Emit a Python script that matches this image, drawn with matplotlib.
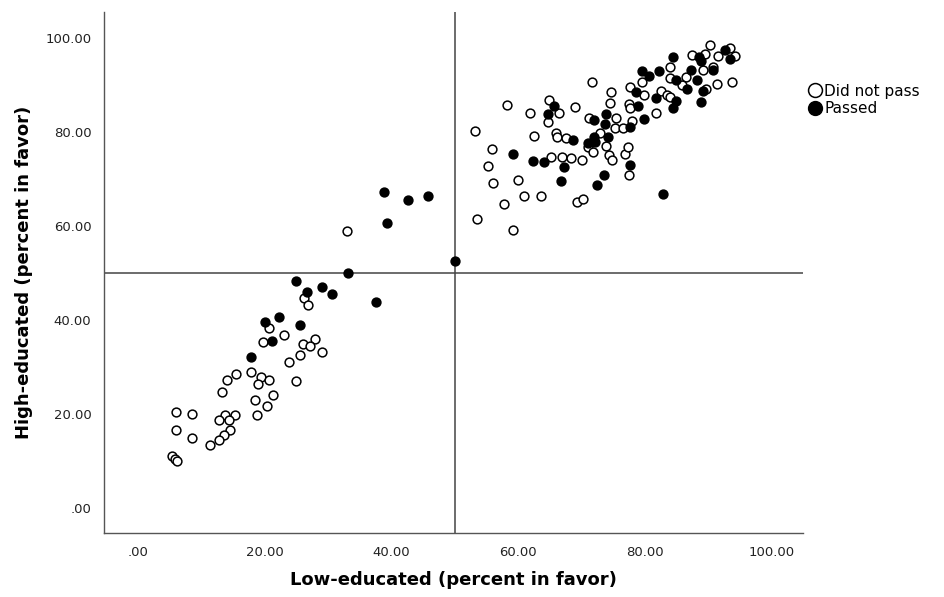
import matplotlib.pyplot as plt
from matplotlib.lines import Line2D

# Did not pass (open circles)
fail_x = [33.0, 26.2, 26.9, 20.7, 19.7, 23.1, 27.9, 26.0, 27.1, 29.0, 25.5, 23.8, 24.9,
          17.9, 19.4, 20.7, 19.0, 15.4, 14.1, 13.2, 21.3, 18.4, 20.3, 18.8, 6.0, 8.5, 6.0,
          8.5, 13.8, 15.3, 12.7, 14.4, 14.5, 13.5, 12.7, 11.4, 5.3, 5.8, 6.1,
          53.5, 71.7, 58.3, 61.9, 64.8, 66.5, 64.7, 68.9, 53.2, 62.5, 66.0, 66.1, 67.6,
          55.9, 55.2, 56.0, 60.0, 57.7, 60.9, 63.6, 59.2, 65.2, 66.9, 68.3, 70.1, 69.3,
          70.3, 71.1, 72.9, 71.0, 71.8, 73.8, 74.4, 74.8, 76.8, 77.3, 77.5, 74.6, 74.5,
          75.4, 75.2, 76.5, 77.9, 77.5, 77.6, 77.7, 79.5, 79.8,
          90.2, 93.5, 94.2, 87.5, 91.6, 89.5, 83.9, 83.9, 82.5, 83.5, 84.0, 86.5, 85.8,
          89.6, 90.8, 91.4, 93.8, 81.8, 89.1]
fail_y = [58.9, 44.7, 43.1, 38.3, 35.3, 36.9, 36.0, 34.8, 34.5, 33.3, 32.6, 31.0, 27.1,
          28.9, 27.9, 27.2, 26.5, 28.6, 27.2, 24.7, 24.1, 23.0, 21.8, 19.8, 20.4, 20.1, 16.7,
          15.0, 19.9, 19.9, 18.8, 18.8, 16.6, 15.6, 14.5, 13.5, 11.0, 10.5, 10.1,
          61.5, 90.6, 85.8, 84.0, 86.7, 84.0, 82.2, 85.3, 80.1, 79.1, 79.7, 79.0, 78.6,
          76.4, 72.8, 69.1, 69.8, 64.6, 66.4, 66.4, 59.1, 74.7, 74.7, 74.5, 74.0, 65.2,
          65.7, 83.0, 79.8, 76.7, 75.7, 77.0, 75.0, 74.1, 75.2, 76.8, 70.8, 88.4, 86.2,
          83.0, 80.9, 80.8, 82.4, 85.9, 85.0, 89.6, 90.5, 87.9,
          98.5, 97.8, 96.2, 96.3, 96.2, 96.5, 93.7, 91.4, 88.6, 87.8, 87.5, 91.6, 90.0,
          89.1, 93.9, 90.1, 90.7, 84.0, 93.2]

# Passed (filled circles)
pass_x = [38.8, 42.6, 45.8, 39.3, 50.1, 33.2, 25.0, 26.6, 29.1, 30.6, 37.5, 22.3, 20.0,
          25.6, 21.2, 17.9,
          65.7, 64.7, 59.2, 62.4, 64.1, 68.6, 67.3, 66.8, 71.9, 73.9, 73.7, 71.9, 71.0,
          72.1, 74.1, 73.5, 72.4, 77.6, 77.7, 78.9, 79.8, 78.6, 79.6, 80.7,
          84.5, 88.5, 88.8, 92.7, 93.4, 82.2, 84.9, 87.3, 88.2, 86.7, 89.1, 90.7, 81.7,
          84.9, 84.4, 88.9, 82.9]
pass_y = [67.3, 65.5, 66.3, 60.6, 52.6, 49.9, 48.4, 46.0, 47.1, 45.5, 43.8, 40.6, 39.6,
          39.0, 35.5, 32.1,
          85.5, 83.8, 75.3, 73.8, 73.5, 78.2, 72.6, 69.6, 82.6, 83.8, 81.6, 79.0, 77.7,
          77.8, 79.0, 70.8, 68.7, 73.0, 81.1, 85.6, 82.7, 88.4, 93.0, 91.8,
          96.0, 96.0, 95.0, 97.4, 95.4, 93.0, 91.1, 93.2, 91.1, 89.1, 88.7, 93.2, 87.2,
          86.6, 85.0, 86.4, 66.9]

ticks = [0, 20, 40, 60, 80, 100]
tick_labels = ['.00', '20.00', '40.00', '60.00', '80.00', '100.00']

fig = plt.figure(figsize=(9.44, 5.97), dpi=100)
ax = fig.add_axes([0.110, 0.107, 0.741, 0.873])

ax.axvline(50, color='#444444', lw=1.1, zorder=1)
ax.axhline(50, color='#444444', lw=1.1, zorder=1)

ax.scatter(fail_x, fail_y, s=40, facecolor='white', edgecolor='black', linewidth=1.1, zorder=2)
ax.scatter(pass_x, pass_y, s=40, facecolor='black', edgecolor='black', linewidth=1.1, zorder=3)

ax.set_xlim(-5.4, 105)
ax.set_ylim(-5.3, 105.5)
ax.set_xticks(ticks)
ax.set_xticklabels(tick_labels)
ax.set_yticks(ticks)
ax.set_yticklabels(tick_labels)
ax.tick_params(axis='x', length=0, labelsize=9.5, colors='#222222', pad=9)
ax.tick_params(axis='y', length=0, labelsize=9.5, colors='#222222', pad=9)

for side in ['top', 'right']:
    ax.spines[side].set_visible(False)
for side in ['left', 'bottom']:
    ax.spines[side].set_color('#555555')
    ax.spines[side].set_linewidth(1.0)

ax.set_xlabel('Low-educated (percent in favor)', fontsize=13, fontweight='bold', labelpad=9)
ax.set_ylabel('High-educated (percent in favor)', fontsize=13, fontweight='bold', labelpad=9)

handles = [
    Line2D([], [], marker='o', linestyle='', markersize=10, markerfacecolor='white',
           markeredgecolor='black', markeredgewidth=1.1),
    Line2D([], [], marker='o', linestyle='', markersize=10, markerfacecolor='black',
           markeredgecolor='black'),
]
fig.legend(handles, ['Did not pass', 'Passed'], loc='upper left',
           bbox_to_anchor=(0.849, 0.87), frameon=False, fontsize=11,
           handletextpad=0.1, labelspacing=0.15, handlelength=1.0, borderaxespad=0)

fig.savefig('out.png', dpi=100)
